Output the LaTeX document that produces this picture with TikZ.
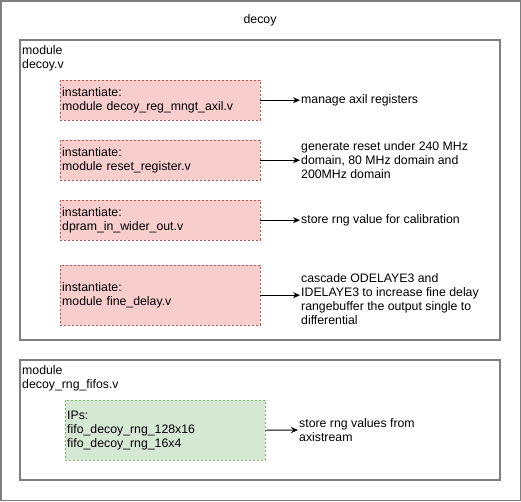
\documentclass[tikz,border=0pt]{standalone}
\usepackage{fontspec}
\setmainfont{Liberation Sans}
\usetikzlibrary{arrows.meta}
\definecolor{redfill}{HTML}{F8CECC}
\definecolor{redline}{HTML}{B85450}
\definecolor{greenfill}{HTML}{D5E8D4}
\definecolor{greenline}{HTML}{82B366}
\definecolor{frameline}{HTML}{7F7F7F}
\begin{document}
\begin{tikzpicture}[x=1pt, y=-1pt, font=\fontsize{12.3}{14}\selectfont,
		frame/.style={draw=frameline, line width=1.5pt},
		label/.style={align=left, inner sep=1pt, anchor=north west},
		instbox/.style={draw=redline, fill=redfill, dash pattern=on 2pt off 2pt, text width=196pt, align=left, inner sep=2pt, anchor=north west, minimum height=40pt},
		ipbox/.style={draw=greenline, fill=greenfill, dash pattern=on 2pt off 2pt, text width=196pt, align=left, inner sep=2pt, anchor=north west, minimum height=60pt},
		note/.style={align=left, inner sep=1pt, anchor=west},
		conn/.style={-{Stealth[length=7pt, width=6pt]}, black, line width=0.9pt}]
	\useasboundingbox (0,0) rectangle (521,501);
	\draw[frame] (0.75,0.75) rectangle (520.25,500.25);
	\node (title) at (260,20) {decoy};
	% module decoy.v
	\draw[frame] (20,40) rectangle (500,340);
	\node[label] (decoyv) at (21,44) {module\\decoy.v};
	\node[instbox] (inst1) at (60,80) {instantiate:\\module decoy\_reg\_mngt\_axil.v};
	\node[instbox] (inst2) at (60,140) {instantiate:\\module reset\_register.v};
	\node[instbox] (inst3) at (60,200) {instantiate:\\dpram\_in\_wider\_out.v};
	\node[instbox, minimum height=60pt] (inst4) at (60,265) {instantiate:\\module fine\_delay.v};
	\node[note] (note1) at (300,100) {manage axil registers};
	\node[note] (note2) at (300,160) {generate reset under 240 MHz\\domain, 80 MHz domain and\\200MHz domain};
	\node[note] (note3) at (300,220) {store rng value for calibration};
	\node[note] (note4) at (300,299) {cascade ODELAYE3 and\\IDELAYE3 to increase fine delay\\rangebuffer the output single to\\differential};
	\foreach \i in {1,...,4}
		\draw[conn] (inst\i.east) -- (inst\i.east -| note\i.west);
	% module decoy_rng_fifos.v
	\draw[frame] (20,360) rectangle (500,480);
	\node[label] (fifosv) at (21,364) {module\\decoy\_rng\_fifos.v};
	\node[ipbox] (ips) at (65,400) {IPs:\\fifo\_decoy\_rng\_128x16\\fifo\_decoy\_rng\_16x4};
	\node[note] (note5) at (298,430) {store rng values from\\axistream};
	\draw[conn] (ips.east) -- (note5.west);
\end{tikzpicture}
\end{document}
